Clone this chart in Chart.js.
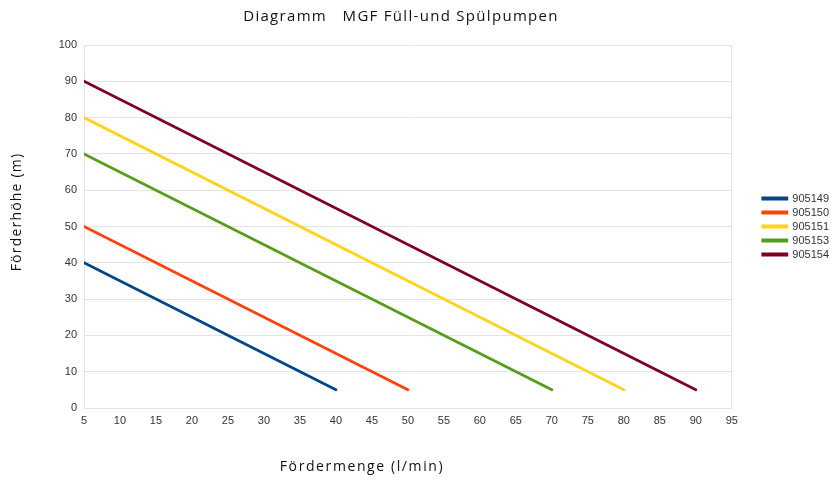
<!DOCTYPE html>
<html>
<head>
<meta charset="utf-8">
<script src="https://cdn.jsdelivr.net/npm/chart.js@4/dist/chart.umd.min.js"></script>
<style>
  html, body { margin: 0; padding: 0; background: #ffffff; }
  #wrap { width: 835px; height: 480px; position: relative; }
</style>
</head>
<body>
<div id="wrap"><canvas id="c" width="835" height="480"></canvas></div>
<script>
// ---- Data ----
const chartTitle = "Diagramm   MGF Füll-und Spülpumpen";
const xAxisTitle = "Fördermenge (l/min)";
const yAxisTitle = "Förderhöhe (m)";

const seriesNames = ["905149", "905150", "905151", "905153", "905154"];
const seriesColors = ["#004586", "#ff420e", "#ffd320", "#579d1c", "#7e0021"];

// flow (l/min) at start and end of each curve
const flow905149 = [5, 40];
const flow905150 = [5, 50];
const flow905151 = [5, 80];
const flow905153 = [5, 70];
const flow905154 = [5, 90];

// head (m) at those flows
const head905149 = [40, 5];
const head905150 = [50, 5];
const head905151 = [80, 5];
const head905153 = [70, 5];
const head905154 = [90, 5];

const xTicks = [5, 10, 15, 20, 25, 30, 35, 40, 45, 50, 55, 60, 65, 70, 75, 80, 85, 90, 95];
const yTicks = [0, 10, 20, 30, 40, 50, 60, 70, 80, 90, 100];

const flows = [flow905149, flow905150, flow905151, flow905153, flow905154];
const heads = [head905149, head905150, head905151, head905153, head905154];

const datasets = seriesNames.map((name, i) => ({
  label: name,
  data: flows[i].map((f, j) => ({ x: f, y: heads[i][j] })),
  borderColor: seriesColors[i],
  backgroundColor: seriesColors[i],
  borderWidth: 2.8,
  borderCapStyle: 'round',
  pointRadius: 0,
  pointHoverRadius: 0,
  tension: 0,
  fill: false
}));

const handFont = '"Open Sans", "DejaVu Sans", sans-serif';

const titlesPlugin = {
  id: 'titlesPlugin',
  afterDraw(chart) {
    const ctx = chart.ctx;
    ctx.save();
    ctx.fillStyle = '#111111';
    ctx.textAlign = 'center';
    ctx.textBaseline = 'middle';
    ctx.font = '15px ' + handFont;
    try { ctx.letterSpacing = '1.3px'; } catch (e) {}
    ctx.fillText(chartTitle, 401, 17);
    ctx.font = '14px ' + handFont;
    try { ctx.letterSpacing = '1.6px'; } catch (e) {}
    ctx.fillText(xAxisTitle, 362, 467);
    try { ctx.letterSpacing = '1.2px'; } catch (e) {}
    ctx.translate(17, 212);
    ctx.rotate(-Math.PI / 2);
    ctx.fillText(yAxisTitle, 0, 0);
    ctx.restore();
  }
};

// move the legend block to the right, as in the reference
const legendShift = {
  id: 'legendShift',
  afterUpdate(chart) {
    const l = chart.legend;
    if (!l) return;
    l.left += 28;
    l.right += 28;
    l.adjustHitBoxes();
  }
};

new Chart(document.getElementById('c'), {
  type: 'line',
  data: { datasets },
  plugins: [titlesPlugin, legendShift],
  options: {
    responsive: false,
    animation: false,
    devicePixelRatio: 1,
    layout: { padding: { top: 45, left: 0, right: 24, bottom: 0 } },
    plugins: {
      title: { display: false },
      tooltip: { enabled: false },
      legend: {
        position: 'right',
        fullSize: false,
        labels: {
          boxWidth: 24,
          boxHeight: 1,
          padding: 3,
          color: '#333333',
          font: { family: '"Liberation Sans", Arial, sans-serif', size: 11 }
        }
      }
    },
    scales: {
      x: {
        type: 'linear',
        min: 5,
        max: 95,
        afterBuildTicks: (axis) => { axis.ticks = xTicks.map(v => ({ value: v })); },
        afterFit: (axis) => { axis.height = 72; },
        grid: {
          drawTicks: false,
          color: (c) => (c.index === c.chart.scales.x.ticks.length - 1 ? '#e4e4e4' : 'rgba(0,0,0,0)')
        },
        border: { display: true, color: '#e4e4e4' },
        ticks: {
          padding: 6,
          color: '#333333',
          maxRotation: 0,
          autoSkip: false,
          font: { family: '"Liberation Sans", Arial, sans-serif', size: 11 }
        }
      },
      y: {
        type: 'linear',
        min: 0,
        max: 100,
        afterBuildTicks: (axis) => { axis.ticks = yTicks.map(v => ({ value: v })); },
        afterFit: (axis) => { axis.width = 84; },
        grid: { drawTicks: false, color: '#e4e4e4' },
        border: { display: true, color: '#e4e4e4' },
        ticks: {
          padding: 7,
          color: '#333333',
          font: { family: '"Liberation Sans", Arial, sans-serif', size: 11 }
        }
      }
    }
  }
});
</script>
</body>
</html>
